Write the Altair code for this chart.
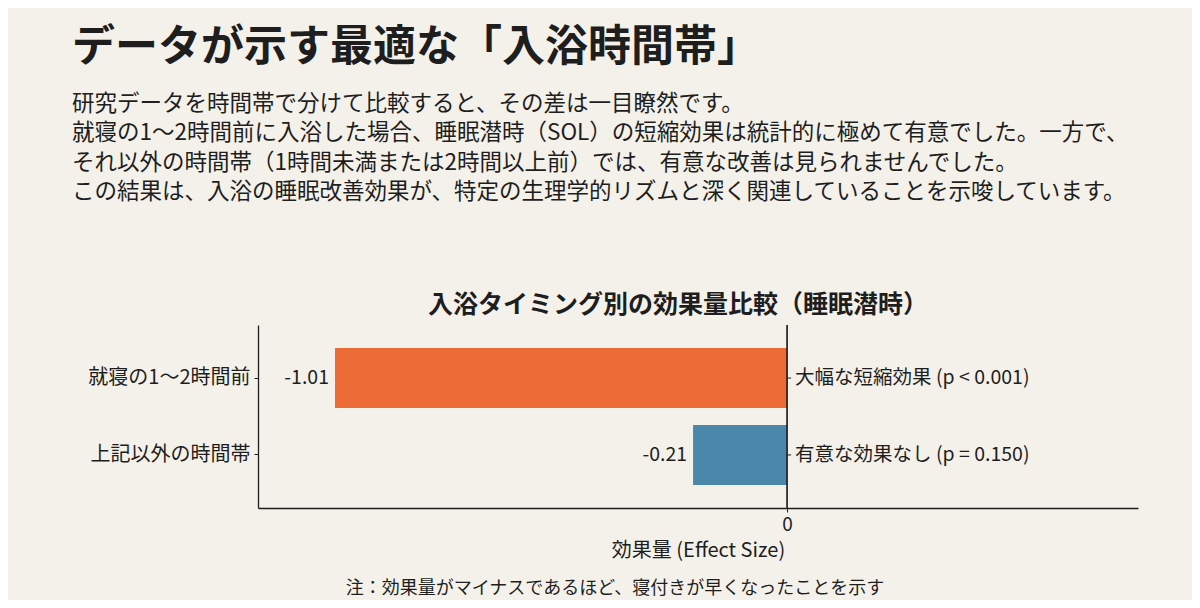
import altair as alt
import pandas as pd

FONT = "Noto Sans CJK JP"
BG = "#f4f1ea"
INK = "#1e1e1e"

# Data
timings = ["就寝の1〜2時間前", "上記以外の時間帯"]
effects = [-1.01, -0.21]
notes = ["大幅な短縮効果 (p < 0.001)", "有意な効果なし (p = 0.150)"]
bar_colors = ["#ec6b37", "#4b87aa"]

headline = "データが示す最適な「入浴時間帯」"
body_lines = [
    "研究データを時間帯で分けて比較すると、その差は一目瞭然です。",
    "就寝の1〜2時間前に入浴した場合、睡眠潜時（SOL）の短縮効果は統計的に極めて有意でした。一方で、",
    "それ以外の時間帯（1時間未満または2時間以上前）では、有意な改善は見られませんでした。",
    "この結果は、入浴の睡眠改善効果が、特定の生理学的リズムと深く関連していることを示唆しています。",
]
chart_title = "入浴タイミング別の効果量比較（睡眠潜時）"
x_title = "効果量 (Effect Size)"
footnote = "注：効果量がマイナスであるほど、寝付きが早くなったことを示す"

df = pd.DataFrame({"timing": timings, "effect": effects, "note": notes})

x_scale = alt.Scale(domain=[-1.182, 0.784], nice=False, zero=False)
y_scale = alt.Scale(paddingInner=0.22, paddingOuter=0.3)
color_scale = alt.Scale(domain=timings, range=bar_colors)

base = alt.Chart(df)

bars = base.mark_bar().encode(
    x=alt.X("effect:Q", scale=x_scale, title=x_title,
            axis=alt.Axis(values=[0], format="d", grid=False, tickSize=4,
                          labelPadding=3, titlePadding=6)),
    y=alt.Y("timing:N", sort=timings, scale=y_scale, title=None,
            axis=alt.Axis(grid=False, tickSize=4, labelPadding=4, labelFontSize=20)),
    color=alt.Color("timing:N", scale=color_scale, legend=None),
)

zero_line = base.mark_rule(color=INK, strokeWidth=1.2).encode(x=alt.datum(0))

zero_ticks = base.mark_rule(color=INK, strokeWidth=1).encode(
    x=alt.datum(0), x2=alt.datum(0.009), y=alt.Y("timing:N", sort=timings)
)

# hyphen minus like the original, not the typographic minus of d3-format
value_labels = base.transform_calculate(
    label="replace(format(datum.effect, '.2f'), '\u2212', '-')"
).mark_text(align="right", dx=-6, fontSize=19.5, font=FONT, color=INK).encode(
    x="effect:Q", y=alt.Y("timing:N", sort=timings), text="label:N"
)

note_labels = base.mark_text(align="left", dx=8, fontSize=19.5, font=FONT, color=INK).encode(
    x=alt.datum(0), y=alt.Y("timing:N", sort=timings), text="note:N"
)


def free_text(text, x, y, size, weight="normal", align="left", line_height=None):
    opts = dict(align=align, baseline="middle", fontSize=size, font=FONT,
                fontWeight=weight, color=INK)
    if line_height:
        opts["lineHeight"] = line_height
    if isinstance(text, list):
        opts["text"] = text
        return alt.Chart(pd.DataFrame({"k": [0]})).mark_text(**opts).encode(
            x=alt.value(x), y=alt.value(y))
    return alt.Chart(pd.DataFrame({"t": [text]})).mark_text(**opts).encode(
        x=alt.value(x), y=alt.value(y), text="t:N")


head = free_text(headline, -186, -277, 43, weight="bold")
body = free_text(body_lines, -186, -221, 22.5, line_height=29.3)
ctitle = free_text(chart_title, 420, -20, 25, weight="bold", align="center")
foot = free_text(footnote, 357, 264, 18, align="center")

chart = alt.layer(
    bars, zero_line, zero_ticks, value_labels, note_labels, head, body, ctitle, foot
).properties(
    width=880,
    height=183,
    padding={"left": 250, "top": 317, "right": 54, "bottom": 92},
    autosize=alt.AutoSizeParams(type="none"),
).configure(
    background=BG,
    font=FONT,
).configure_view(
    stroke=None,
).configure_axis(
    domainColor=INK,
    domainWidth=1.3,
    tickColor=INK,
    labelColor=INK,
    titleColor=INK,
    labelFont=FONT,
    titleFont=FONT,
    labelFontSize=19,
    titleFontSize=20,
    titleFontWeight="normal",
)

chart.save("out.html", embed_options={"renderer": "svg", "actions": False})
